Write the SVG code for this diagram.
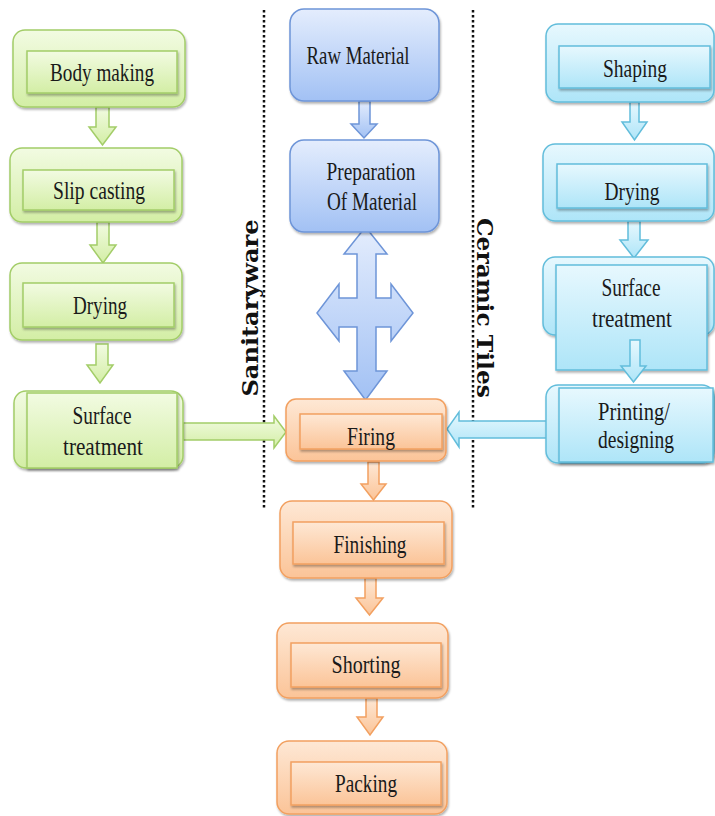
<svg xmlns="http://www.w3.org/2000/svg" width="715" height="816" viewBox="0 0 715 816">
<style>
.t{font-family:"Liberation Serif","DejaVu Serif",serif;font-size:25.5px;fill:#1a1a1a;text-anchor:middle}
.v{font-family:"DejaVu Serif","Liberation Serif",serif;font-weight:bold;font-size:23px;fill:#111;text-anchor:middle}
.g{fill:url(#gG);stroke:#a3cd68;stroke-width:1.5}
.b{fill:url(#gB);stroke:#6e95d8;stroke-width:1.5}
.o{fill:url(#gO);stroke:#f2a060;stroke-width:1.5}
.c{fill:url(#gC);stroke:#62bddb;stroke-width:1.5}
.sh{filter:url(#ds)}
.dot{stroke:#111;stroke-width:2.5;stroke-dasharray:2.5 2.5;fill:none}
</style>
<defs>
<linearGradient id="gG" x1="0" y1="0" x2="0" y2="1"><stop offset="0" stop-color="#f2fbe2"/><stop offset="1" stop-color="#d3eea5"/></linearGradient>
<linearGradient id="gB" x1="0" y1="0" x2="0" y2="1"><stop offset="0" stop-color="#e4edfd"/><stop offset="1" stop-color="#a2c1f4"/></linearGradient>
<linearGradient id="gO" x1="0" y1="0" x2="0" y2="1"><stop offset="0" stop-color="#fee8d5"/><stop offset="1" stop-color="#fbc498"/></linearGradient>
<linearGradient id="gC" x1="0" y1="0" x2="0" y2="1"><stop offset="0" stop-color="#e7f8fe"/><stop offset="1" stop-color="#aee5f8"/></linearGradient>
<filter id="ds" x="-10%" y="-10%" width="125%" height="135%"><feDropShadow dx="1" dy="2" stdDeviation="1.2" flood-color="#000" flood-opacity="0.3"/></filter>
</defs>
<rect width="715" height="816" fill="#fff"/>

<g id="dividers">
<line class="dot" x1="264" y1="10" x2="264" y2="508"/>
<line class="dot" x1="473" y1="10" x2="473" y2="508"/>
<text class="v" transform="translate(258,308) rotate(-90)" textLength="177" lengthAdjust="spacingAndGlyphs">Sanitaryware</text>
<text class="v" transform="translate(477,308) rotate(90)" textLength="180" lengthAdjust="spacingAndGlyphs">Ceramic Tiles</text>
</g>

<g id="connectors">
<path class="g" d="M96,107 H109 V127 H116 L102.5,145 L89,127 H96 Z"/>
<path class="g" d="M97,222 H109 V245 H116 L103,263 L90,245 H97 Z"/>
<path class="g" d="M96,344 H108 V365 H113 L100,383 L87,365 H96 Z"/>
<path class="g" d="M183,423 H274 V416 L286,432 L274,448 V440 H183 Z"/>
<path class="b" d="M359,101 H370 V124 H377 L364,138 L351,124 H359 Z"/>
<path class="b" d="M365.5,227 L387,254 H376 V298 H391 V284 L413,313 L391,341 V327 H376 V371 H387 L365.5,400 L344,371 H357 V327 H339 V341 L317,313 L339,284 V298 H357 V254 H344 Z"/>
<path class="o" d="M368,462 H379 V484 H386 L373.5,500 L361,484 H368 Z"/>
<path class="o" d="M365,578 H376 V598 H383 L369.5,615 L356,598 H365 Z"/>
<path class="o" d="M366,698 H377 V717 H383 L370,735 L357,717 H366 Z"/>
<path class="c" d="M630,102 H639 V122 H647 L634.5,140 L622,122 H630 Z"/>
<path class="c" d="M628,221 H640 V240 H648 L634,258 L620,240 H628 Z"/>
<path class="c" d="M548,421 H459 V412 L447,429 L459,447 V438 H548 Z"/>
</g>

<g id="body-making">
<rect class="g sh" x="13" y="30" width="172" height="77" rx="12"/>
<rect class="g sh" x="27" y="51" width="150" height="42"/>
<text class="t" x="102" y="81" textLength="104" lengthAdjust="spacingAndGlyphs">Body making</text>
</g>
<g id="slip-casting">
<rect class="g sh" x="10" y="148" width="172" height="74" rx="12"/>
<rect class="g sh" x="23" y="170" width="151" height="40"/>
<text class="t" x="99" y="199" textLength="92" lengthAdjust="spacingAndGlyphs">Slip casting</text>
</g>
<g id="drying-left">
<rect class="g sh" x="10" y="263" width="172" height="77" rx="12"/>
<rect class="g sh" x="23" y="283" width="151" height="44"/>
<text class="t" x="100" y="314" textLength="54" lengthAdjust="spacingAndGlyphs">Drying</text>
</g>
<g id="surface-left">
<rect class="g sh" x="14" y="391" width="169" height="77" rx="12"/>
<rect class="g sh" x="27" y="393" width="150" height="75"/>
<text class="t" x="102" y="424" textLength="59" lengthAdjust="spacingAndGlyphs">Surface</text>
<text class="t" x="103" y="455" textLength="80" lengthAdjust="spacingAndGlyphs">treatment</text>
</g>

<g id="raw-material">
<rect class="b sh" x="290" y="9" width="149" height="92" rx="14"/>
<text class="t" x="358" y="64" textLength="103" lengthAdjust="spacingAndGlyphs">Raw Material</text>
</g>
<g id="preparation">
<rect class="b sh" x="290" y="140" width="149" height="92" rx="14"/>
<text class="t" x="371" y="180" textLength="89" lengthAdjust="spacingAndGlyphs">Preparation</text>
<text class="t" x="372" y="210" textLength="90" lengthAdjust="spacingAndGlyphs">Of Material</text>
</g>

<g id="firing">
<rect class="o sh" x="286" y="399" width="160" height="62" rx="10"/>
<rect class="o sh" x="300" y="414" width="142" height="35"/>
<text class="t" x="371" y="445" textLength="48" lengthAdjust="spacingAndGlyphs">Firing</text>
</g>
<g id="finishing">
<rect class="o sh" x="280" y="501" width="172" height="77" rx="12"/>
<rect class="o sh" x="293" y="522" width="151" height="42"/>
<text class="t" x="370" y="553" textLength="73" lengthAdjust="spacingAndGlyphs">Finishing</text>
</g>
<g id="shorting">
<rect class="o sh" x="277" y="623" width="171" height="75" rx="12"/>
<rect class="o sh" x="291" y="643" width="150" height="44"/>
<text class="t" x="366" y="673" textLength="69" lengthAdjust="spacingAndGlyphs">Shorting</text>
</g>
<g id="packing">
<rect class="o sh" x="277" y="741" width="170" height="73" rx="12"/>
<rect class="o sh" x="291" y="762" width="150" height="43"/>
<text class="t" x="366" y="792" textLength="62" lengthAdjust="spacingAndGlyphs">Packing</text>
</g>

<g id="shaping">
<rect class="c sh" x="546" y="24" width="168" height="78" rx="12"/>
<rect class="c sh" x="559" y="46" width="151" height="42"/>
<text class="t" x="635" y="77" textLength="64" lengthAdjust="spacingAndGlyphs">Shaping</text>
</g>
<g id="drying-right">
<rect class="c sh" x="543" y="144" width="171" height="77" rx="12"/>
<rect class="c sh" x="557" y="164" width="150" height="44"/>
<text class="t" x="632" y="200" textLength="55" lengthAdjust="spacingAndGlyphs">Drying</text>
</g>
<g id="surface-right">
<rect class="c sh" x="543" y="257" width="171" height="78" rx="12"/>
<rect class="c sh" x="556" y="265" width="151" height="105"/>
<path class="c" d="M630,340 H640 V366 H646 L633.5,382 L621,366 H630 Z"/>
<text class="t" x="631" y="296" textLength="59" lengthAdjust="spacingAndGlyphs">Surface</text>
<text class="t" x="632" y="327" textLength="80" lengthAdjust="spacingAndGlyphs">treatment</text>
</g>
<g id="printing">
<rect class="c sh" x="546" y="385" width="168" height="78" rx="12"/>
<rect class="c sh" x="559" y="388" width="154" height="74"/>
<text class="t" x="634" y="420" textLength="72" lengthAdjust="spacingAndGlyphs">Printing/</text>
<text class="t" x="636" y="448" textLength="76" lengthAdjust="spacingAndGlyphs">designing</text>
</g>
</svg>
